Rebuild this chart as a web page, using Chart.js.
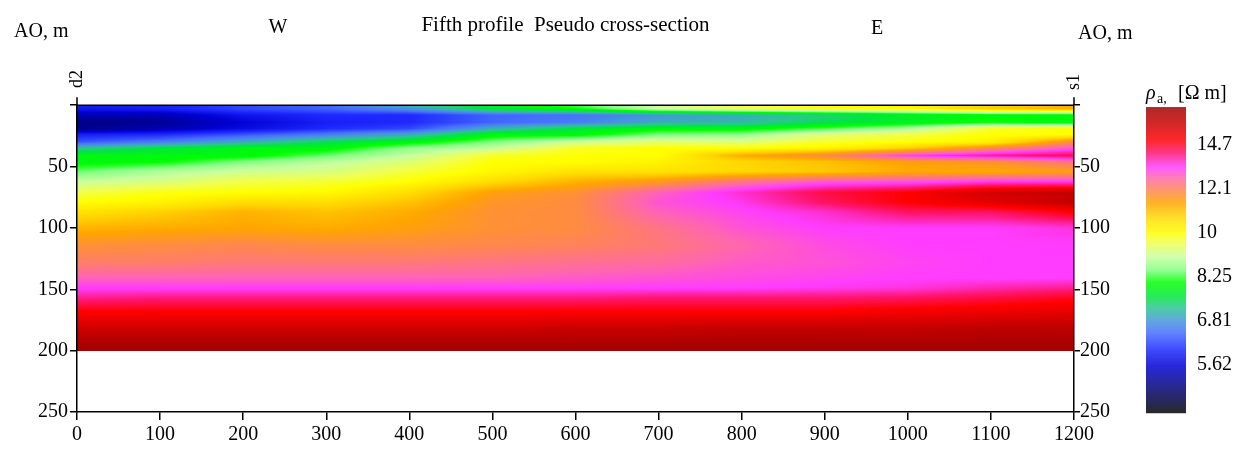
<!DOCTYPE html>
<html>
<head>
<meta charset="utf-8">
<script src="https://cdn.jsdelivr.net/npm/chart.js@4.4.1/dist/chart.umd.min.js"></script>
<style>
  html, body { margin: 0; padding: 0; background: #fff; }
  #wrap { position: relative; width: 1243px; height: 457px; }
</style>
</head>
<body>
<div id="wrap"><canvas id="section"></canvas></div>
<script>
// stations along the profile (AO, m) and depth levels of the pseudo-section
var stations = [0, 100, 200, 300, 400, 500, 600, 700, 800, 900, 1000, 1100, 1200];
var depths = [0, 3, 8, 14, 19, 24, 30, 35, 41, 46, 54, 62, 71, 79, 87, 100, 114, 128, 141, 149, 157, 168, 182, 195, 200];

// apparent resistivity, Ohm m - one column per station, top to bottom
var rho0    = [5.9, 5.8, 5.4, 5.15, 5.2, 5.9, 6.3, 7.2, 7.9, 7.9, 8.4, 9.0, 9.6, 10.0, 10.5, 11.2, 11.8, 12.2, 12.8, 13.3, 14.0, 15.0, 16.0, 17.0, 17.2];
var rho100  = [5.9, 5.9, 5.4, 5.25, 5.4, 6.0, 6.6, 7.6, 7.9, 8.0, 8.8, 9.2, 9.9, 10.2, 10.8, 11.3, 11.9, 12.2, 12.8, 13.3, 14.1, 15.0, 16.0, 17.0, 17.2];
var rho200  = [6.2, 6.2, 5.8, 5.6, 5.7, 6.3, 7.0, 7.9, 7.9, 8.5, 9.1, 9.6, 10.0, 10.6, 11.2, 11.4, 12.0, 12.3, 12.8, 13.3, 14.1, 15.0, 16.0, 17.0, 17.2];
var rho300  = [6.4, 6.4, 6.0, 5.9, 6.0, 6.6, 7.5, 7.9, 8.4, 8.9, 9.2, 9.7, 10.1, 10.6, 11.0, 11.3, 11.9, 12.3, 12.8, 13.3, 14.1, 15.0, 16.0, 17.0, 17.2];
var rho400  = [7.0, 6.8, 6.0, 6.0, 6.2, 7.0, 7.9, 8.6, 9.0, 9.3, 9.7, 10.0, 10.6, 11.0, 11.3, 11.5, 11.9, 12.3, 12.8, 13.3, 14.1, 15.0, 16.0, 17.0, 17.2];
var rho500  = [7.8, 7.6, 6.4, 6.4, 7.0, 7.9, 8.5, 9.0, 9.8, 10.0, 10.1, 10.6, 11.5, 11.7, 11.8, 11.8, 12.0, 12.4, 12.8, 13.3, 14.1, 15.0, 16.0, 17.0, 17.2];
var rho600  = [8.3, 8.0, 6.5, 6.6, 7.6, 7.9, 9.1, 9.8, 10.0, 10.0, 10.5, 11.2, 11.8, 11.9, 11.9, 11.9, 12.1, 12.5, 12.9, 13.3, 14.1, 15.0, 16.2, 17.0, 17.2];
var rho700  = [9.0, 9.0, 6.8, 7.0, 7.9, 8.5, 9.4, 10.0, 10.0, 10.2, 10.5, 11.6, 12.8, 13.0, 12.8, 12.4, 12.3, 12.6, 13.0, 13.3, 14.2, 15.0, 16.2, 17.0, 17.2];
var rho800  = [9.6, 9.5, 7.0, 7.1, 7.9, 8.6, 9.3, 10.0, 11.3, 10.7, 10.7, 12.4, 13.6, 13.4, 13.2, 13.0, 12.7, 12.9, 13.1, 13.3, 14.2, 15.0, 16.3, 17.0, 17.2];
var rho900  = [10.0, 9.8, 7.3, 7.5, 8.3, 9.3, 9.8, 10.2, 12.0, 11.0, 10.9, 12.9, 14.5, 14.3, 13.6, 13.3, 13.1, 13.0, 13.2, 13.4, 14.2, 15.0, 16.3, 17.0, 17.2];
var rho1000 = [10.3, 10.0, 7.7, 7.8, 8.8, 9.6, 10.0, 10.8, 13.3, 11.5, 11.3, 13.0, 15.0, 15.0, 14.3, 13.3, 13.3, 13.2, 13.3, 13.5, 14.3, 15.2, 16.3, 17.0, 17.2];
var rho1100 = [10.8, 10.8, 7.9, 8.1, 9.8, 10.0, 10.2, 12.0, 14.0, 11.8, 11.3, 13.3, 16.0, 15.6, 14.3, 13.3, 13.3, 13.3, 13.3, 13.8, 14.5, 15.3, 16.5, 17.0, 17.2];
var rho1200 = [11.3, 11.3, 7.9, 7.9, 10.0, 10.0, 12.0, 13.0, 14.5, 12.5, 11.5, 13.3, 16.3, 16.3, 15.0, 13.5, 13.3, 13.3, 13.3, 14.0, 14.8, 15.5, 16.5, 17.0, 17.2];
var rhoColumns = [rho0, rho100, rho200, rho300, rho400, rho500, rho600, rho700, rho800, rho900, rho1000, rho1100, rho1200];

// colour scale
var legendTicks = [5.62, 6.81, 8.25, 10, 12.1, 14.7];
var legendRange = [4.56, 17.3];

// palette stops: value, r, g, b
var palette = [
  [4.56, 0, 0, 0], [4.83, 0, 0, 70], [5.2, 0, 0, 140], [5.58, 0, 0, 210],
  [6.0, 30, 40, 255], [6.47, 70, 110, 255], [6.81, 70, 150, 220], [7.24, 40, 200, 140],
  [7.57, 0, 230, 60], [8.04, 0, 255, 0], [8.5, 130, 255, 130], [9.0, 200, 255, 160],
  [9.57, 240, 255, 80], [10.0, 255, 255, 0], [10.72, 255, 215, 0], [11.4, 255, 165, 0],
  [12.1, 255, 130, 90], [12.76, 255, 100, 180], [13.3, 255, 60, 255], [14.2, 255, 20, 110],
  [15.0, 255, 0, 0], [16.2, 200, 0, 0], [17.3, 160, 0, 0]
];

var FONT = "'Liberation Serif', 'Times New Roman', serif";

function colorFor(v) {
  if (v <= palette[0][0]) return palette[0].slice(1);
  for (var i = 1; i < palette.length; i++) {
    if (v <= palette[i][0]) {
      var a = palette[i - 1], b = palette[i];
      var t = (Math.log(v) - Math.log(a[0])) / (Math.log(b[0]) - Math.log(a[0]));
      return [a[1] + (b[1] - a[1]) * t, a[2] + (b[2] - a[2]) * t, a[3] + (b[3] - a[3]) * t];
    }
  }
  return palette[palette.length - 1].slice(1);
}

function locate(arr, v) {
  var i = 0;
  while (i < arr.length - 2 && v > arr[i + 1]) i++;
  var t = (v - arr[i]) / (arr[i + 1] - arr[i]);
  return [i, Math.max(0, Math.min(1, t))];
}

// nodes of the section, handed to chart.js so the scales know them
var nodes = [];
for (var c = 0; c < stations.length; c++) {
  for (var r = 0; r < depths.length; r++) {
    nodes.push({ x: stations[c], y: depths[r], v: rhoColumns[c][r] });
  }
}

var sectionPlugin = {
  id: 'section',
  beforeDraw: function(chart) {
    var xs = chart.scales.x, ys = chart.scales.y, ctx = chart.ctx;
    var left = Math.round(xs.left), right = Math.round(xs.right);
    var top = Math.round(ys.getPixelForValue(depths[0]));
    var bottom = Math.round(ys.getPixelForValue(depths[depths.length - 1]));
    var w = right - left, h = bottom - top;
    var off = document.createElement('canvas');
    off.width = w; off.height = h;
    var octx = off.getContext('2d');
    var img = octx.createImageData(w, h);
    var logs = rhoColumns.map(function(col) { return col.map(Math.log); });
    var colPos = [];
    for (var px = 0; px < w; px++) colPos.push(locate(stations, xs.getValueForPixel(left + px + 0.5)));
    for (var py = 0; py < h; py++) {
      var rp = locate(depths, ys.getValueForPixel(top + py + 0.5));
      var j = rp[0], tj = rp[1];
      for (var px2 = 0; px2 < w; px2++) {
        var i = colPos[px2][0], ti = colPos[px2][1];
        var a = logs[i][j] * (1 - tj) + logs[i][j + 1] * tj;
        var b = logs[i + 1][j] * (1 - tj) + logs[i + 1][j + 1] * tj;
        var col = colorFor(Math.exp(a * (1 - ti) + b * ti));
        var k = (py * w + px2) * 4;
        img.data[k] = col[0]; img.data[k + 1] = col[1]; img.data[k + 2] = col[2]; img.data[k + 3] = 255;
      }
    }
    octx.putImageData(img, 0, 0);
    ctx.drawImage(off, left, top);
  },
  afterDraw: function(chart) {
    var ctx = chart.ctx, area = chart.chartArea;
    ctx.save();
    // top frame line and corner ticks
    ctx.strokeStyle = '#000';
    ctx.lineWidth = 1.5;
    ctx.beginPath();
    ctx.moveTo(area.left, area.top); ctx.lineTo(area.right, area.top);
    ctx.moveTo(area.left, area.top); ctx.lineTo(area.left, area.top - 8);
    ctx.moveTo(area.right, area.top); ctx.lineTo(area.right, area.top - 8);
    ctx.stroke();

    ctx.fillStyle = '#000';
    ctx.font = '20px ' + FONT;
    ctx.textBaseline = 'alphabetic';
    ctx.textAlign = 'left';
    ctx.fillText('AO, m', 14, 37);
    ctx.fillText('AO, m', area.right + 4, 39);
    ctx.textAlign = 'center';
    ctx.fillText('W', chart.scales.x.getPixelForValue(242), 33);
    ctx.fillText('E', chart.scales.x.getPixelForValue(963), 34);

    // electrode names, rotated
    ctx.font = '18px ' + FONT;
    ctx.textBaseline = 'middle';
    [['d2', area.left, 79], ['s1', area.right, 82]].forEach(function(e) {
      ctx.save();
      ctx.translate(e[1], e[2]);
      ctx.rotate(-Math.PI / 2);
      ctx.fillText(e[0], 0, 0);
      ctx.restore();
    });

    // colour bar
    var bx = area.right + 72, bw = 40, by = area.top + 2, bh = area.bottom + 1 - by;
    var lmin = Math.log(legendRange[0]), lmax = Math.log(legendRange[1]);
    for (var y = 0; y < bh; y++) {
      var c = colorFor(Math.exp(lmax - (y + 0.5) / bh * (lmax - lmin)));
      ctx.fillStyle = 'rgb(' + Math.round(c[0]) + ',' + Math.round(c[1]) + ',' + Math.round(c[2]) + ')';
      ctx.fillRect(bx, by + y, bw, 1);
    }
    ctx.fillStyle = '#000';
    ctx.font = '20px ' + FONT;
    ctx.textAlign = 'left';
    ctx.textBaseline = 'middle';
    legendTicks.forEach(function(v) {
      var ty = by + (lmax - Math.log(v)) / (lmax - lmin) * bh;
      ctx.fillText(String(v), bx + 51, ty);
    });
    ctx.textBaseline = 'alphabetic';
    ctx.font = 'italic 20px ' + FONT;
    ctx.fillText('\u03c1', bx, by - 8);
    ctx.font = '14px ' + FONT;
    ctx.fillText('a,', bx + 11, by - 4);
    ctx.font = '20px ' + FONT;
    ctx.fillText('[\u03a9 m]', bx + 32, by - 8);
    ctx.restore();
  }
};

var tickFont = { family: FONT, size: 20 };
var axisGrid = { drawOnChartArea: false, drawTicks: true, color: '#000', lineWidth: 1.5, tickLength: 7 };
var axisBorder = { color: '#000', width: 1.5 };

var ctx = document.getElementById('section');
var sectionChart = new Chart(ctx, {
  type: 'scatter',
  data: {
    datasets: [{
      label: 'rho_a',
      data: nodes,
      pointRadius: 0,
      pointHoverRadius: 0
    }]
  },
  plugins: [sectionPlugin],
  options: {
    responsive: true,
    maintainAspectRatio: false,
    animation: false,
    events: [],
    layout: { padding: { left: 12, right: 124, top: 0, bottom: 0 } },
    plugins: {
      legend: { display: false },
      tooltip: { enabled: false },
      title: {
        display: true,
        text: 'Fifth profile  Pseudo cross-section',
        color: '#000',
        font: { family: FONT, size: 21, weight: 'normal', lineHeight: 1.2 },
        padding: { top: 13, bottom: 67 }
      }
    },
    scales: {
      x: {
        type: 'linear',
        min: 0, max: 1200,
        grid: Object.assign({}, axisGrid, { tickLength: 8 }),
        border: axisBorder,
        ticks: {
          stepSize: 100, color: '#000', font: tickFont, padding: 3, maxRotation: 0,
          callback: function(v) { return String(v); }
        },
        afterFit: function(s) { s.height = 45; }
      },
      y: {
        type: 'linear',
        reverse: true,
        min: 0, max: 250,
        grid: axisGrid,
        border: axisBorder,
        ticks: {
          stepSize: 50, color: '#000', font: tickFont, padding: 2,
          callback: function(v) { return v === 0 ? '' : String(v); }
        },
        afterFit: function(s) { s.width = 65; }
      },
      y2: {
        type: 'linear',
        position: 'right',
        reverse: true,
        min: 0, max: 250,
        grid: Object.assign({}, axisGrid, { tickLength: 6 }),
        border: axisBorder,
        ticks: {
          stepSize: 50, color: '#000', font: tickFont, padding: 0,
          callback: function(v) { return v === 0 ? '' : String(v); }
        },
        afterFit: function(s) { s.width = 45; }
      }
    }
  }
});
</script>
</body>
</html>
